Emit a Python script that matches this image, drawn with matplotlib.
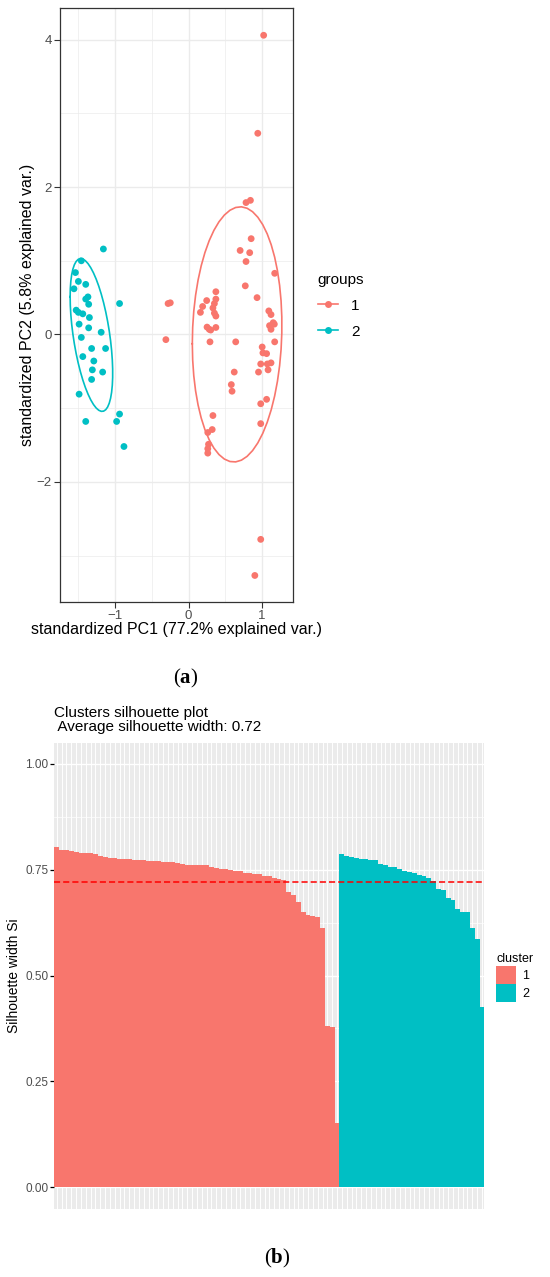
import numpy as np
import matplotlib
matplotlib.use("Agg")
import matplotlib.pyplot as plt
from matplotlib.lines import Line2D
from matplotlib.patches import Patch

plt.rcParams["font.family"] = ["Liberation Sans", "DejaVu Sans"]
plt.rcParams["mathtext.fontset"] = "custom"
plt.rcParams["mathtext.rm"] = "Liberation Serif"
plt.rcParams["mathtext.bf"] = "Liberation Serif:bold"

RED = "#F8766D"
CYAN = "#00BFC4"
TXT = "#4D4D4D"

# ---- data: PCA scores per group
pc1_g1 = [1.02, 0.94, 0.78, 0.84, 0.85, 0.70, 0.83, 0.78, 1.17, 0.77,
          0.93, 0.37, 0.245, 0.37, 0.19, 0.35, 0.33, 0.16, 0.35, 0.37,
          0.25, 0.28, 0.37, 0.30, 1.09, 1.12, 1.15, 1.10, 1.165, 1.12,
          0.29, 0.64, 1.00, 1.17, 1.01, 1.06, 0.98, 1.07, 1.12, 1.08,
          0.95, 0.62, 0.58, 0.59, 0.98, 1.06, 0.33, 0.98, 0.32, 0.26,
          0.27, 0.26, 0.26, 0.98, 0.90, -0.31, -0.28, -0.25]
pc2_g1 = [4.06, 2.73, 1.79, 1.82, 1.30, 1.14, 1.11, 0.99, 0.83, 0.66,
          0.50, 0.58, 0.46, 0.48, 0.38, 0.42, 0.36, 0.30, 0.29, 0.25,
          0.10, 0.07, 0.095, 0.06, 0.32, 0.27, 0.16, 0.12, 0.14, 0.07,
          -0.10, -0.10, -0.17, -0.10, -0.25, -0.26, -0.40, -0.40, -0.385, -0.48,
          -0.51, -0.51, -0.68, -0.77, -0.94, -0.88, -1.10, -1.21, -1.29, -1.33,
          -1.49, -1.55, -1.61, -2.78, -3.27, -0.07, 0.42, 0.43]
pc1_g2 = [-1.16, -1.46, -1.54, -1.50, -1.40, -1.56, -1.40, -1.37, -1.36, -0.94,
          -1.53, -1.50, -1.44, -1.35, -1.49, -1.36, -1.19, -1.46, -1.32, -1.13,
          -1.44, -1.29, -1.31, -1.17, -1.32, -1.49, -0.94, -1.40, -0.98, -0.88]
pc2_g2 = [1.16, 1.00, 0.84, 0.72, 0.68, 0.62, 0.48, 0.51, 0.41, 0.42,
          0.33, 0.30, 0.28, 0.23, 0.14, 0.09, 0.03, -0.04, -0.19, -0.19,
          -0.30, -0.36, -0.48, -0.51, -0.61, -0.81, -1.08, -1.18, -1.18, -1.52]
group_labels = ["1", "2"]

# ---- data: silhouette widths, sorted within cluster
sil_1 = [0.803, 0.797, 0.796, 0.795, 0.792, 0.790, 0.789, 0.788, 0.787, 0.782,
         0.780, 0.778, 0.777, 0.775, 0.774, 0.774, 0.773, 0.773, 0.772, 0.771,
         0.771, 0.770, 0.769, 0.768, 0.767, 0.765, 0.764, 0.762, 0.761, 0.761,
         0.760, 0.760, 0.756, 0.753, 0.752, 0.751, 0.748, 0.747, 0.746, 0.742,
         0.741, 0.740, 0.740, 0.736, 0.734, 0.731, 0.728, 0.726, 0.696, 0.689,
         0.674, 0.649, 0.643, 0.641, 0.637, 0.613, 0.380, 0.378, 0.152]
sil_2 = [0.787, 0.781, 0.779, 0.777, 0.774, 0.774, 0.773, 0.772, 0.764, 0.761,
         0.757, 0.755, 0.751, 0.747, 0.744, 0.741, 0.737, 0.734, 0.730, 0.723,
         0.705, 0.703, 0.682, 0.678, 0.656, 0.651, 0.649, 0.613, 0.585, 0.426]
avg_width = 0.72

W, H = 550, 1277
fig = plt.figure(figsize=(W / 100, H / 100), dpi=100)


def px_axes(l, t, r, b):
    return fig.add_axes([l / W, 1 - b / H, (r - l) / W, (b - t) / H])


# ================= (a) PCA biplot =================
ax = px_axes(60, 8, 292.7, 602)
ax.set_xlim(-1.75, 1.415)
ax.set_ylim(-3.63, 4.43)
ax.set_xticks([-1, 0, 1])
ax.set_xticks([-1.5, -0.5, 0.5], minor=True)
ax.set_yticks([-2, 0, 2, 4])
ax.set_yticks([-3, -1, 1, 3], minor=True)
ax.set_xticklabels(["\u22121", "0", "1"])
ax.set_yticklabels(["\u22122", "0", "2", "4"])
ax.grid(which="major", color="#EBEBEB", lw=1.0, zorder=0)
ax.grid(which="minor", color="#EBEBEB", lw=0.5, zorder=0)
ax.tick_params(which="major", length=4, width=0.8, color="#333333",
               labelsize=9.5, labelcolor=TXT, pad=2)
ax.tick_params(which="minor", length=0)
for s in ax.spines.values():
    s.set_color("#333333")
    s.set_linewidth(0.9)

theta = np.linspace(-np.pi, np.pi, 50)
circle = np.column_stack([np.cos(theta), np.sin(theta)])
ed = np.sqrt(-2 * np.log(1 - 0.68))  # qchisq(0.68, df=2)
for xs, ys, c in ((pc1_g1, pc2_g1, RED), (pc1_g2, pc2_g2, CYAN)):
    xs, ys = np.asarray(xs), np.asarray(ys)
    ax.scatter(xs, ys, s=24, color=c, edgecolors="none", zorder=3)
    sigma = np.cov(np.vstack([xs, ys]))
    mu = np.array([xs.mean(), ys.mean()])
    ell = ed * circle @ np.linalg.cholesky(sigma).T + mu
    ax.plot(ell[:, 0], ell[:, 1], color=c, lw=1.2, zorder=2)

ax.set_xlabel("standardized PC1 (77.2% explained var.)", fontsize=11.5, labelpad=0)
ax.set_ylabel("standardized PC2 (5.8% explained var.)", fontsize=11.5, labelpad=1)

handles = [Line2D([], [], color=c, lw=1.2, marker="o", ms=5, mec="none")
           for c in (RED, CYAN)]
fig.legend(handles, group_labels, title="groups", loc="upper left",
           bbox_to_anchor=(304 / W, 1 - 259 / H), frameon=False,
           fontsize=11, title_fontsize=11, handlelength=1.3,
           handletextpad=0.9, labelspacing=0.78, alignment="left")

fig.text(186 / W, 1 - 678 / H, r"($\mathbf{a}$)", ha="center", va="center",
         fontsize=15, family="Liberation Serif")

# ================= (b) silhouette plot =================
bx = px_axes(54.4, 742.5, 484.4, 1208.5)
sil = np.concatenate([sil_1, sil_2])
cols = [RED] * len(sil_1) + [CYAN] * len(sil_2)
pos = np.arange(len(sil))
bx.set_facecolor("#EBEBEB")
bx.bar(pos, sil, width=1.0, color=cols, linewidth=0, zorder=2)
bx.axhline(avg_width, color="#FF0000", ls=(0, (4, 2)), lw=1.1, zorder=3)
bx.set_xlim(-0.5, len(sil) - 0.5)
bx.set_ylim(-0.05, 1.05)
bx.set_xticks(pos)
bx.set_yticks([0, 0.25, 0.5, 0.75, 1.0])
bx.set_yticks([0.125, 0.375, 0.625, 0.875], minor=True)
bx.set_yticklabels(["0.00", "0.25", "0.50", "0.75", "1.00"])
bx.grid(axis="x", which="major", color="white", lw=0.7, zorder=1)
bx.grid(axis="y", which="major", color="white", lw=1.0, zorder=1)
bx.grid(axis="y", which="minor", color="white", lw=0.5, zorder=1)
bx.set_axisbelow(True)
bx.tick_params(axis="x", length=0, labelbottom=False)
bx.tick_params(axis="y", which="major", length=3, width=0.9, color="black",
               labelsize=8.5, labelcolor=TXT, pad=1.5)
bx.tick_params(axis="y", which="minor", length=0)
for s in bx.spines.values():
    s.set_visible(False)
bx.set_ylabel("Silhouette width Si", fontsize=10, labelpad=3)
bx.set_title("Clusters silhouette plot\n Average silhouette width: %.2f" % avg_width,
             loc="left", fontsize=11, pad=8, linespacing=1.05)

patches = [Patch(color=c, lw=0) for c in (RED, CYAN)]
fig.legend(patches, group_labels, title="cluster", loc="upper left",
           bbox_to_anchor=(485 / W, 1 - 942 / H), frameon=False,
           fontsize=9, title_fontsize=9, handlelength=1.6, handleheight=1.8,
           handletextpad=0.5, labelspacing=0.05, alignment="left")

fig.text(277 / W, 1 - 1258 / H, r"($\mathbf{b}$)", ha="center", va="center",
         fontsize=15, family="Liberation Serif")

fig.savefig("out.png", dpi=100)
